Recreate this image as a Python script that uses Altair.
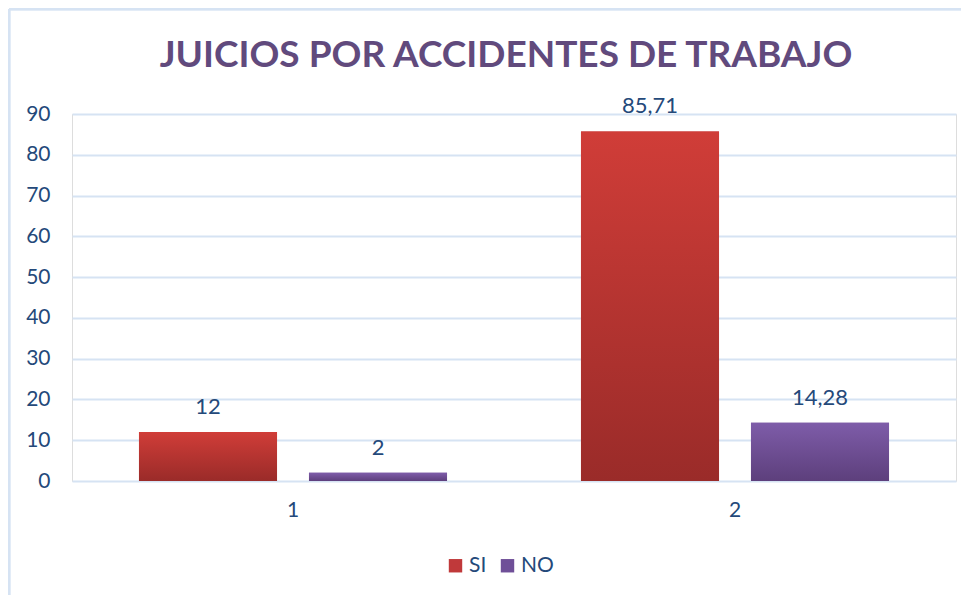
import altair as alt
import pandas as pd

groups = ["1", "1", "2", "2"]
series = ["SI", "NO", "SI", "NO"]
values = [12, 2, 85.71, 14.28]
labels = ["12", "2", "85,71", "14,28"]
title_text = "JUICIOS POR ACCIDENTES DE TRABAJO"

df = pd.DataFrame({"grupo": groups, "serie": series, "valor": values, "etiqueta": labels})

TXT = "#24497a"
FONT = "Lato"

x_enc = alt.X("grupo:N", title=None,
              scale=alt.Scale(paddingInner=0, paddingOuter=0),
              axis=alt.Axis(labelAngle=0, labelFontSize=21, labelColor=TXT, labelFont=FONT,
                            domain=False, ticks=False, labelPadding=18, grid=False))
xo_enc = alt.XOffset("serie:N", sort=["SI", "NO"],
                     scale=alt.Scale(paddingInner=0.188, paddingOuter=0.394))
y_enc = alt.Y("valor:Q", title=None,
              scale=alt.Scale(domain=[0, 90], nice=False),
              axis=alt.Axis(values=list(range(0, 100, 10)), labelFontSize=21, labelColor=TXT,
                            labelFont=FONT, domain=False, ticks=False, labelPadding=22,
                            gridColor="#d6e3f3", gridWidth=2))

base = alt.Chart(df)

legend_bars = base.mark_bar().encode(
    x=x_enc, xOffset=xo_enc, y=y_enc,
    color=alt.Color("serie:N", sort=["SI", "NO"],
                    scale=alt.Scale(domain=["SI", "NO"], range=["#c0393a", "#6f4f98"]),
                    legend=alt.Legend(title=None, orient="none", direction="horizontal",
                                      legendX=373, legendY=441,
                                      labelFontSize=21, labelColor=TXT, labelFont=FONT,
                                      symbolType="square", symbolSize=180, symbolStrokeWidth=0,
                                      columnPadding=10, labelOffset=3))
)

red_grad = alt.Gradient(gradient="linear", x1=0, y1=0, x2=0, y2=1,
                        stops=[alt.GradientStop(color="#d03d38", offset=0),
                               alt.GradientStop(color="#9a2b29", offset=1)])
pur_grad = alt.Gradient(gradient="linear", x1=0, y1=0, x2=0, y2=1,
                        stops=[alt.GradientStop(color="#7e5ca9", offset=0),
                               alt.GradientStop(color="#5d3f7c", offset=1)])

si_bars = base.transform_filter(alt.datum.serie == "SI").mark_bar(fill=red_grad).encode(
    x=x_enc, xOffset=xo_enc, y=y_enc)
no_bars = base.transform_filter(alt.datum.serie == "NO").mark_bar(fill=pur_grad).encode(
    x=x_enc, xOffset=xo_enc, y=y_enc)

text = base.mark_text(dy=-25, fontSize=22, color=TXT, font=FONT).encode(
    x=x_enc, xOffset=xo_enc, y=y_enc, text="etiqueta:N")

title_df = pd.DataFrame({"t": [title_text]})
title_mark = alt.Chart(title_df).mark_text(
    fontSize=37, font=FONT, fontWeight="bold", color="#614a7d",
    baseline="middle", align="center", clip=False
).encode(x=alt.value(434), y=alt.value(-58), text="t:N")

border_left = base.mark_rule(color="#d6e3f3", strokeWidth=2.5, clip=False).encode(
    x=alt.value(-63), y=alt.value(-105), y2=alt.value(620))
border_top = base.mark_rule(color="#d6e3f3", strokeWidth=2.5, clip=False).encode(
    x=alt.value(-63), x2=alt.value(1000), y=alt.value(-105))

chart = alt.layer(legend_bars, si_bars, no_bars, text, title_mark, border_left, border_top).properties(
    width=884, height=367,
    autosize=alt.AutoSizeParams(type="none"),
    padding={"left": 64, "top": 106, "right": 5, "bottom": 114},
).configure_view(stroke=None).configure(background="white")

chart.save("out.html", embed_options={"renderer": "svg", "actions": False})
